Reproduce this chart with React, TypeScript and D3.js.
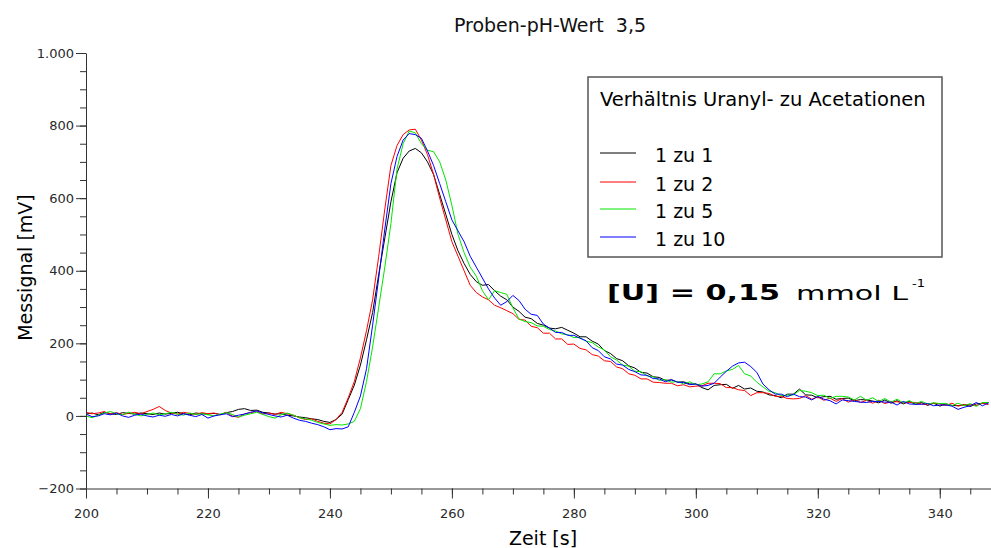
import React, { useEffect, useRef } from "react";
import * as d3 from "d3";

const TITLE = "Proben-pH-Wert  3,5";
const X_LABEL = "Zeit [s]";
const Y_LABEL = "Messignal [mV]";
const LEGEND_TITLE = "Verhältnis Uranyl- zu Acetationen";
const SERIES_NAMES = ["1 zu 1", "1 zu 2", "1 zu 5", "1 zu 10"];
const SERIES_COLORS = ["#000000", "#ff0000", "#00e600", "#0000ff"];
const T_START = 200;
const T_STEP = 1;
const X_TICKS = [200, 220, 240, 260, 280, 300, 320, 340];
const X_MINOR = d3.range(200, 349, 5);
const Y_TICKS = [-200, 0, 200, 400, 600, 800, 1000];
const Y_MINOR = d3.range(-200, 1001, 50);

const ratio_1_1 = [
  5, 8, 3, 10, 6, 4, 9, 7, 5, 8,
  6, 4, 8, 5, 7, 10, 6, 3, 8, 6,
  5, 7, 4, 9, 12, 18, 20, 15, 16, 10,
  8, 5, 6, 2, 0, -3, -5, -8, -10, -15,
  -18, -10, 5, 45, 85, 140, 210, 285, 390, 490,
  590, 670, 710, 730, 737, 725, 700, 665, 610, 555,
  500, 455, 420, 390, 370, 360, 362, 345, 330, 320,
  300, 288, 272, 268, 255, 250, 242, 240, 244, 236,
  228, 218, 218, 206, 198, 180, 172, 158, 152, 138,
  132, 120, 118, 108, 106, 98, 99, 93, 94, 88,
  88, 78, 72, 84, 86, 87, 76, 84, 74, 77,
  68, 66, 58, 56, 50, 60, 60, 74, 58, 57,
  50, 53, 54, 46, 48, 49, 42, 45, 44, 41,
  36, 44, 35, 42, 33, 40, 32, 37, 29, 35,
  27, 33, 29, 28, 31, 26, 33, 35, 36,
];

const ratio_1_2 = [
  10, 6, 8, 12, 5, 9, 4, 7, 10, 6,
  12, 18, 26, 15, 8, 5, 10, 7, 4, 9,
  6, 8, 3, 10, 0, -4, 6, 9, 12, 5,
  8, 4, 10, 6, 2, -5, -10, -8, -15, -20,
  -22, -10, 10, 50, 95, 160, 235, 320, 440, 570,
  690, 745, 775, 788, 790, 760, 720, 665, 600, 540,
  480, 440, 400, 360, 340, 328, 320, 305, 298, 290,
  282, 266, 264, 247, 243, 228, 228, 212, 212, 197,
  198, 186, 182, 169, 165, 152, 150, 135, 130, 116,
  112, 102, 102, 93, 92, 90, 90, 83, 86, 80,
  82, 83, 90, 90, 89, 78, 78, 72, 70, 56,
  64, 64, 62, 54, 54, 48, 47, 48, 56, 46,
  52, 43, 49, 40, 48, 38, 45, 37, 43, 35,
  43, 34, 39, 39, 36, 37, 37, 33, 31, 35,
  33, 29, 35, 27, 31, 31, 29, 35, 31,
];

const ratio_1_5 = [
  0, -5, 2, 8, 12, 6, 3, 10, 5, 0,
  4, 8, 3, 6, 10, 5, 2, 8, 4, 6,
  3, 0, 5, 9, 4, -3, 2, 6, 10, 4,
  -2, -6, 3, 8, 2, -5, -8, -12, -18, -22,
  -26, -24, -25, -22, -15, 20, 95, 190, 300, 410,
  530, 680, 750, 785, 780, 750, 732, 728, 700, 650,
  580, 500, 450, 410, 385, 345, 320, 345, 340, 335,
  298, 267, 260, 257, 248, 247, 238, 234, 226, 224,
  216, 216, 206, 202, 190, 182, 163, 154, 140, 137,
  123, 122, 110, 108, 98, 100, 93, 95, 88, 94,
  86, 88, 94, 116, 116, 124, 128, 139, 116, 110,
  93, 80, 68, 64, 56, 57, 58, 70, 68, 64,
  56, 57, 48, 54, 54, 52, 44, 54, 43, 50,
  40, 48, 38, 46, 36, 42, 34, 40, 33, 36,
  34, 34, 28, 35, 28, 34, 26, 37, 37,
];

const ratio_1_10 = [
  5, -2, 0, 6, 3, 8, 0, -4, 2, 5,
  0, -3, 2, -1, 4, 0, 6, 2, -2, 4,
  -6, 0, 3, 6, -2, 2, 5, 10, 14, 8,
  4, 0, -3, 2, -6, -12, -15, -20, -24, -30,
  -38, -35, -36, -30, 10, 55, 130, 250, 380, 515,
  640, 715, 760, 778, 775, 765, 730, 690, 640, 590,
  540, 510, 480, 440, 410, 380, 350, 325, 305, 315,
  332, 318, 294, 280, 277, 253, 242, 230, 230, 222,
  222, 214, 207, 188, 180, 163, 157, 143, 140, 128,
  122, 113, 112, 103, 102, 94, 100, 93, 92, 86,
  88, 82, 84, 90, 107, 123, 137, 146, 148, 136,
  120, 88, 72, 60, 60, 53, 60, 53, 52, 44,
  54, 46, 42, 33, 44, 42, 40, 38, 37, 40,
  40, 38, 38, 30, 40, 33, 32, 32, 34, 28,
  30, 30, 27, 18, 24, 28, 37, 28, 36,
];

const SERIES = [ratio_1_1, ratio_1_2, ratio_1_5, ratio_1_10];

const W = 991;
const H = 548;
const FONT = "'DejaVu Sans', Verdana, sans-serif";

const locale = d3.formatLocale({
  decimal: ",",
  thousands: ".",
  grouping: [3],
  currency: ["", " €"],
  minus: "\u2212",
});
const fmt = locale.format(",d");

export default function App() {
  const xAxisRef = useRef<SVGGElement>(null);
  const xMinorRef = useRef<SVGGElement>(null);
  const yAxisRef = useRef<SVGGElement>(null);
  const yMinorRef = useRef<SVGGElement>(null);

  const x = d3.scaleLinear().domain([200, 348.4]).range([86, 991]);
  const y = d3.scaleLinear().domain([-200, 1000]).range([488.5, 53]);

  const line = d3
    .line<number>()
    .x((_, i) => x(T_START + i * T_STEP))
    .y((d) => y(d));

  useEffect(() => {
    const styleAxis = (g: d3.Selection<SVGGElement, unknown, null, undefined>) => {
      g.selectAll(".domain").attr("stroke", "#333").attr("stroke-width", 1);
      g.selectAll(".tick line").attr("stroke", "#333");
      g.selectAll(".tick text")
        .attr("fill", "#2a2a2a")
        .style("font-family", FONT)
        .style("font-size", "13px");
    };
    const gx = d3.select(xAxisRef.current!);
    gx.call(
      d3.axisBottom(x).tickValues(X_TICKS).tickSize(10).tickSizeOuter(0).tickPadding(10).tickFormat((d) => fmt(d as number))
    );
    styleAxis(gx);
    const gxm = d3.select(xMinorRef.current!);
    gxm.call(d3.axisBottom(x).tickValues(X_MINOR).tickSize(6).tickSizeOuter(0).tickFormat(() => ""));
    styleAxis(gxm);
    gxm.select(".domain").remove();

    const gy = d3.select(yAxisRef.current!);
    gy.call(
      d3.axisLeft(y).tickValues(Y_TICKS).tickSize(10).tickSizeOuter(0).tickPadding(2).tickFormat((d) => fmt(d as number))
    );
    styleAxis(gy);
    const gym = d3.select(yMinorRef.current!);
    gym.call(d3.axisLeft(y).tickValues(Y_MINOR).tickSize(6).tickSizeOuter(0).tickFormat(() => ""));
    styleAxis(gym);
    gym.select(".domain").remove();
  }, []);

  const legendY = [153, 182, 209, 237];

  return (
    <svg
      width={W}
      height={H}
      style={{ position: "absolute", left: 0, top: 0, background: "#fff" }}
      fontFamily={FONT}
    >
      <rect x={0} y={0} width={W} height={H} fill="#fff" />
      <text x={550} y={31.5} textAnchor="middle" fontSize={19} fill="#111" style={{ whiteSpace: "pre" }}>
        {TITLE}
      </text>

      {SERIES.map((s, i) => (
        <path key={i} d={line(s) || ""} fill="none" stroke={SERIES_COLORS[i]} strokeWidth={1} />
      ))}

      <g ref={xMinorRef} transform={`translate(0,${y(-200)})`} />
      <g ref={xAxisRef} transform={`translate(0,${y(-200)})`} />
      <g ref={yMinorRef} transform={`translate(${x(200)},0)`} />
      <g ref={yAxisRef} transform={`translate(${x(200)},0)`} />

      <text x={543} y={545} textAnchor="middle" fontSize={19} fill="#000">
        {X_LABEL}
      </text>
      <text transform="translate(32,267.5) rotate(-90)" textAnchor="middle" fontSize={19} fill="#000">
        {Y_LABEL}
      </text>

      <rect x={588} y={77} width={354} height={180} fill="#fff" stroke="#555" strokeWidth={1.5} />
      <text x={600} y={106} fontSize={19.5} fill="#000">
        {LEGEND_TITLE}
      </text>
      {SERIES_NAMES.map((n, i) => (
        <g key={n}>
          <line x1={600} x2={636} y1={legendY[i]} y2={legendY[i]} stroke={SERIES_COLORS[i]} strokeWidth={1} />
          <text x={655} y={legendY[i] + 9} fontSize={19} fill="#000">
            {n}
          </text>
        </g>
      ))}

      <text x={607} y={300} fontSize={22} fontWeight="bold" fill="#000" textLength={173} lengthAdjust="spacingAndGlyphs">
        [U] = 0,15
      </text>
      <text x={796} y={300} fontSize={20} fill="#000" textLength={112} lengthAdjust="spacingAndGlyphs">
        mmol L
      </text>
      <text x={912} y={287} fontSize={11} fill="#000" textLength={13} lengthAdjust="spacingAndGlyphs">
        -1
      </text>
    </svg>
  );
}
